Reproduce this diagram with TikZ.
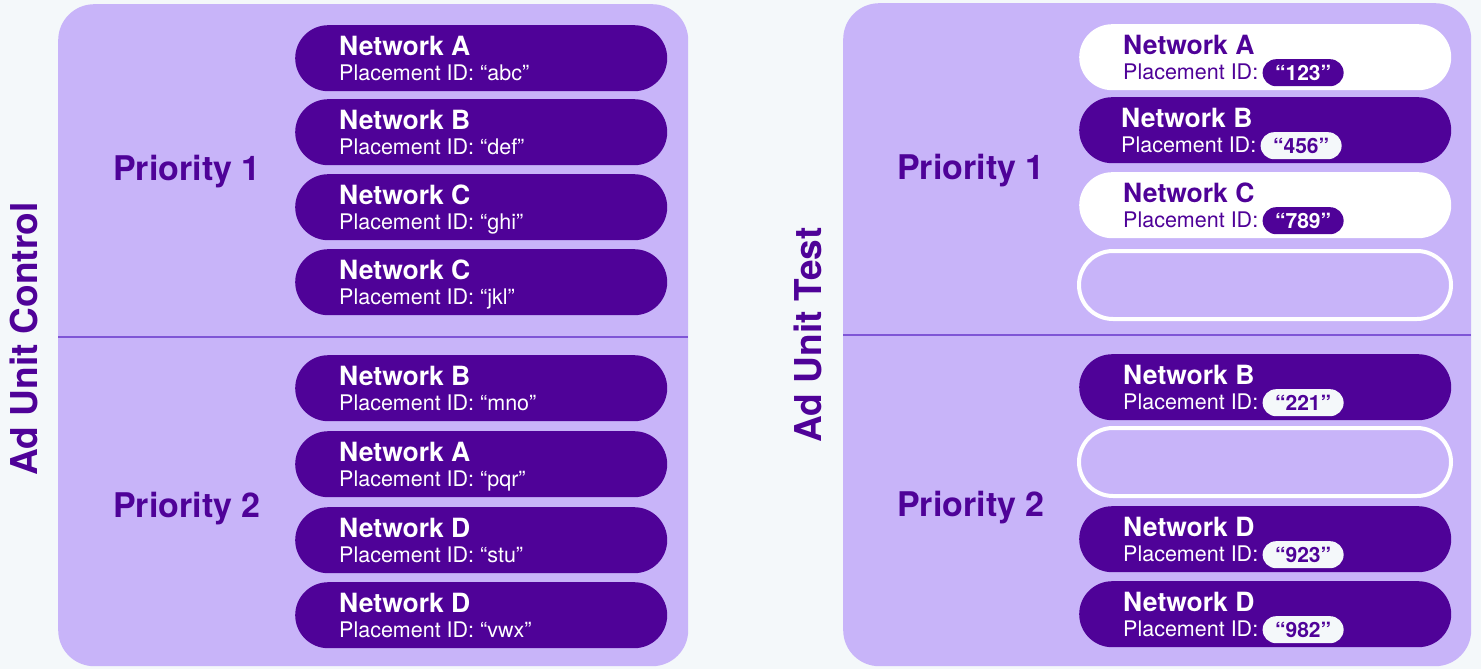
\documentclass[tikz,border=0pt]{standalone}
\usepackage{fontspec}
\setmainfont{TeX Gyre Heros}
\usetikzlibrary{calc}
\definecolor{bgc}{HTML}{F4F8FA}
\definecolor{panelc}{HTML}{C8B4F9}
\definecolor{deep}{HTML}{4F0298}
\definecolor{divc}{HTML}{7F55D6}
\tikzset{
  panelbox/.style={rectangle, fill=panelc, draw=none, rounded corners=36pt, inner sep=0pt},
  pillbase/.style={rectangle, rounded corners=33pt, minimum width=372pt, minimum height=66pt, inner sep=0pt, draw=none},
  pilldark/.style={pillbase, fill=deep},
  pilllight/.style={pillbase, fill=white},
  pillempty/.style={rectangle, rounded corners=34pt, minimum width=372pt, minimum height=68pt, inner sep=0pt, draw=white, line width=4pt, fill=panelc},
  titletext/.style={font=\bfseries\fontsize{26.5}{29}\selectfont, inner sep=0pt, anchor=base west},
  idtext/.style={font=\fontsize{21.5}{24}\selectfont, inner sep=0pt, anchor=base west},
  prio/.style={font=\bfseries\fontsize{34}{38}\selectfont, text=deep, inner sep=0pt, anchor=base west},
  unitlabel/.style={font=\bfseries\fontsize{37}{40}\selectfont, text=deep, inner sep=0pt, rotate=90, anchor=center},
  badgedark/.style={rectangle, fill=deep, text=white, rounded corners=13.5pt, minimum width=81pt, minimum height=27pt, inner sep=0pt, font=\bfseries\fontsize{21}{24}\selectfont, anchor=west},
  badgelight/.style={badgedark, fill=bgc, text=deep},
  divider/.style={draw=divc, line width=2.5pt}
}
\def\tx{44}
\newcommand\netpill[7]{%
  \node[#4, anchor=north west] (#1) at (#2,#3) {};
  \node[titletext, text=#5] (#1t) at ($(#1.west)+(\tx,-3)$) {#6};
  \node[idtext, text=#5] (#1i) at ($(#1.west)+(\tx,22)$) {#7};
}
\begin{document}
\begin{tikzpicture}[x=1pt,y=-1pt]
\fill[bgc] (0,0) rectangle (1481,669);
\useasboundingbox (0,0) rectangle (1481,669);

% panels
\node[panelbox, minimum width=630pt, minimum height=662pt, anchor=north west] (lpanel) at (58,4) {};
\node[panelbox, minimum width=628pt, minimum height=663pt, anchor=north west] (rpanel) at (843,3) {};
\coordinate (ldl) at (58,337);
\coordinate (ldr) at (688,337);
\coordinate (rdl) at (843,335);
\coordinate (rdr) at (1471,335);
\draw[divider] (ldl) -- (ldr);
\draw[divider] (rdl) -- (rdr);

% side labels
\node[unitlabel] (ctrl) at (24,339) {Ad Unit Control};
\node[unitlabel] (test) at (808,335) {Ad Unit Test};

% priority labels
\node[prio] (lp1) at (113,180) {Priority 1};
\node[prio] (lp2) at (113,517) {Priority 2};
\node[prio] (rp1) at (897,179) {Priority 1};
\node[prio] (rp2) at (897,516) {Priority 2};

% left panel pills
\netpill{la}{295}{25}{pilldark}{white}{Network A}{Placement ID: “abc”}
\netpill{lb}{295}{99}{pilldark}{white}{Network B}{Placement ID: “def”}
\netpill{lc}{295}{174}{pilldark}{white}{Network C}{Placement ID: “ghi”}
\netpill{ld}{295}{249}{pilldark}{white}{Network C}{Placement ID: “jkl”}
\netpill{le}{295}{355}{pilldark}{white}{Network B}{Placement ID: “mno”}
\netpill{lf}{295}{431}{pilldark}{white}{Network A}{Placement ID: “pqr”}
\netpill{lg}{295}{507}{pilldark}{white}{Network D}{Placement ID: “stu”}
\netpill{lh}{295}{582}{pilldark}{white}{Network D}{Placement ID: “vwx”}

% right panel pills
\netpill{ra}{1079}{24}{pilllight}{deep}{Network A}{Placement ID:}
\node[badgedark] (rab) at ($(rai.base east)+(4,-6.5)$) {“123”};
\def\tx{42}
\netpill{rb}{1079}{97}{pilldark}{white}{Network B}{Placement ID:}
\node[badgelight] (rbb) at ($(rbi.base east)+(4,-6.5)$) {“456”};
\def\tx{44}
\netpill{rc}{1079}{172}{pilllight}{deep}{Network C}{Placement ID:}
\node[badgedark] (rcb) at ($(rci.base east)+(4,-6.5)$) {“789”};
\node[pillempty] (rd) at (1265,285) {};

\netpill{re}{1079}{354}{pilldark}{white}{Network B}{Placement ID:}
\node[badgelight] (reb) at ($(rei.base east)+(4,-6.5)$) {“221”};
\node[pillempty] (rf) at (1265,462) {};
\netpill{rg}{1079}{506}{pilldark}{white}{Network D}{Placement ID:}
\node[badgelight] (rgb) at ($(rgi.base east)+(4,-6.5)$) {“923”};
\netpill{rh}{1079}{581}{pilldark}{white}{Network D}{Placement ID:}
\node[badgelight] (rhb) at ($(rhi.base east)+(4,-6.5)$) {“982”};
\end{tikzpicture}
\end{document}
